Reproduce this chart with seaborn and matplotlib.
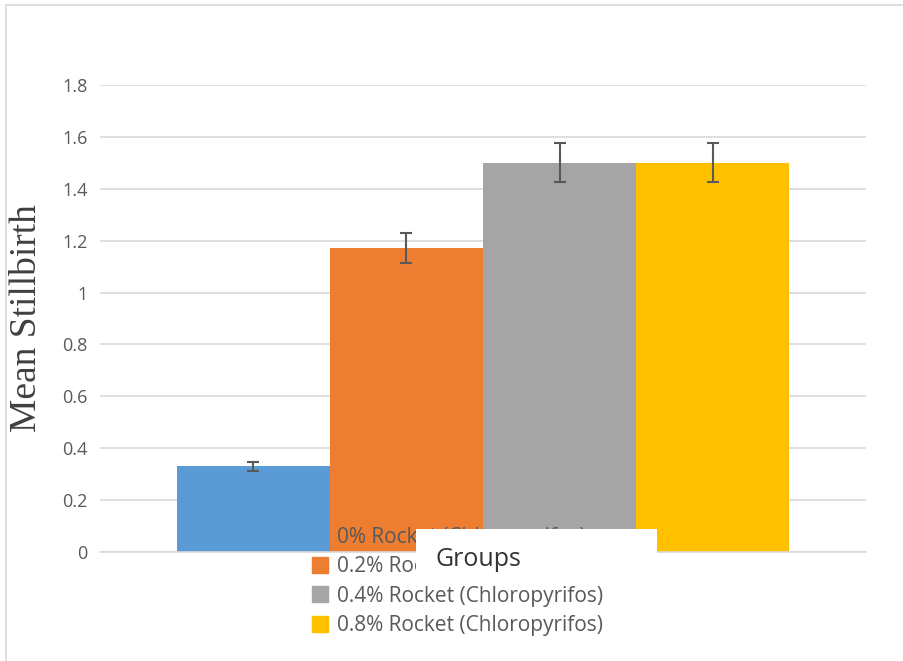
import pandas as pd
import matplotlib.pyplot as plt
import seaborn as sns
from matplotlib.lines import Line2D
from matplotlib.patches import Rectangle

groups = ["0% Rocket (Chloropyrifos)", "0.2% Rocket (Chloropyrifos)",
          "0.4% Rocket (Chloropyrifos)", "0.8% Rocket (Chloropyrifos)"]
means = [0.33, 1.17, 1.50, 1.50]
errors = [0.017, 0.058, 0.075, 0.075]
colors = ["#5B9BD5", "#ED7D31", "#A5A5A5", "#FFC000"]
yticks = [0, 0.2, 0.4, 0.6, 0.8, 1, 1.2, 1.4, 1.6, 1.8]
ytick_labels = ["0", "0.2", "0.4", "0.6", "0.8", "1", "1.2", "1.4", "1.6", "1.8"]

df = pd.DataFrame({"x": ["Groups"] * 4, "group": groups, "mean": means})

sns.set_style("white")
plt.rcParams["font.family"] = ["Open Sans", "DejaVu Sans"]

fig = plt.figure(figsize=(9.04, 6.61), dpi=100)
ax = fig.add_axes([100 / 904, 109 / 661, 766 / 904, 467 / 661])

sns.barplot(data=df, x="x", y="mean", hue="group", hue_order=groups,
            palette=colors, width=0.8, errorbar=None, saturation=1,
            legend=False, ax=ax)

# error bars at the library-placed bar centres
for bar, err in zip(ax.patches, errors):
    bar.set_linewidth(0)
    cx = bar.get_x() + bar.get_width() / 2
    ax.errorbar(cx, bar.get_height(), yerr=err, fmt="none", ecolor="#595959",
                elinewidth=1.5, capsize=4.5, capthick=1.5, zorder=5)

ax.set_ylim(0, 1.8)
ax.set_xlim(-0.5, 0.5)
ax.set_yticks(yticks)
ax.set_yticklabels(ytick_labels)
ax.yaxis.grid(True, color="#D9D9D9", linewidth=1.2)
ax.set_axisbelow(True)
for s in ["top", "right", "left"]:
    ax.spines[s].set_visible(False)
ax.spines["bottom"].set_color("#D9D9D9")
ax.spines["bottom"].set_linewidth(1.2)
ax.tick_params(axis="y", length=0, labelsize=13, labelcolor="#595959", pad=9)
ax.set_xticks([])
ax.set_xlabel("")
ax.set_ylabel("Mean Stillbirth", family="Liberation Serif", fontsize=27,
              color="#404040")
ax.yaxis.set_label_coords(-56 / 766, 0.5)

# legend drawn over the bars
handles = [Line2D([], [], marker="s", linestyle="none", markersize=12,
                  markerfacecolor=c, markeredgecolor=c) for c in colors]
fig.legend(handles, groups, loc="upper left", bbox_to_anchor=(310 / 904, 1 - 527 / 661),
           frameon=False, fontsize=15, labelcolor="#595959", handletextpad=0.3,
           handlelength=1.0, labelspacing=0.4, borderpad=0, borderaxespad=0)

# axis title in a white box on top of the legend
fig.patches.append(Rectangle((416 / 904, 1 - 580 / 661), 241 / 904, 51 / 661,
                             transform=fig.transFigure, facecolor="white",
                             edgecolor="none", zorder=10))
fig.text(478 / 904, 1 - 560 / 661, "Groups", ha="center", va="center",
         fontsize=18, color="#333333", zorder=11)

# outer chart border (left and top)
fig.add_artist(Line2D([6 / 904, 6 / 904], [0, 1 - 5 / 661], transform=fig.transFigure,
                      color="#D9D9D9", linewidth=1.2))
fig.add_artist(Line2D([6 / 904, 1], [1 - 5 / 661, 1 - 5 / 661], transform=fig.transFigure,
                      color="#D9D9D9", linewidth=1.2))

fig.savefig("out.png", dpi=100, facecolor="white")
